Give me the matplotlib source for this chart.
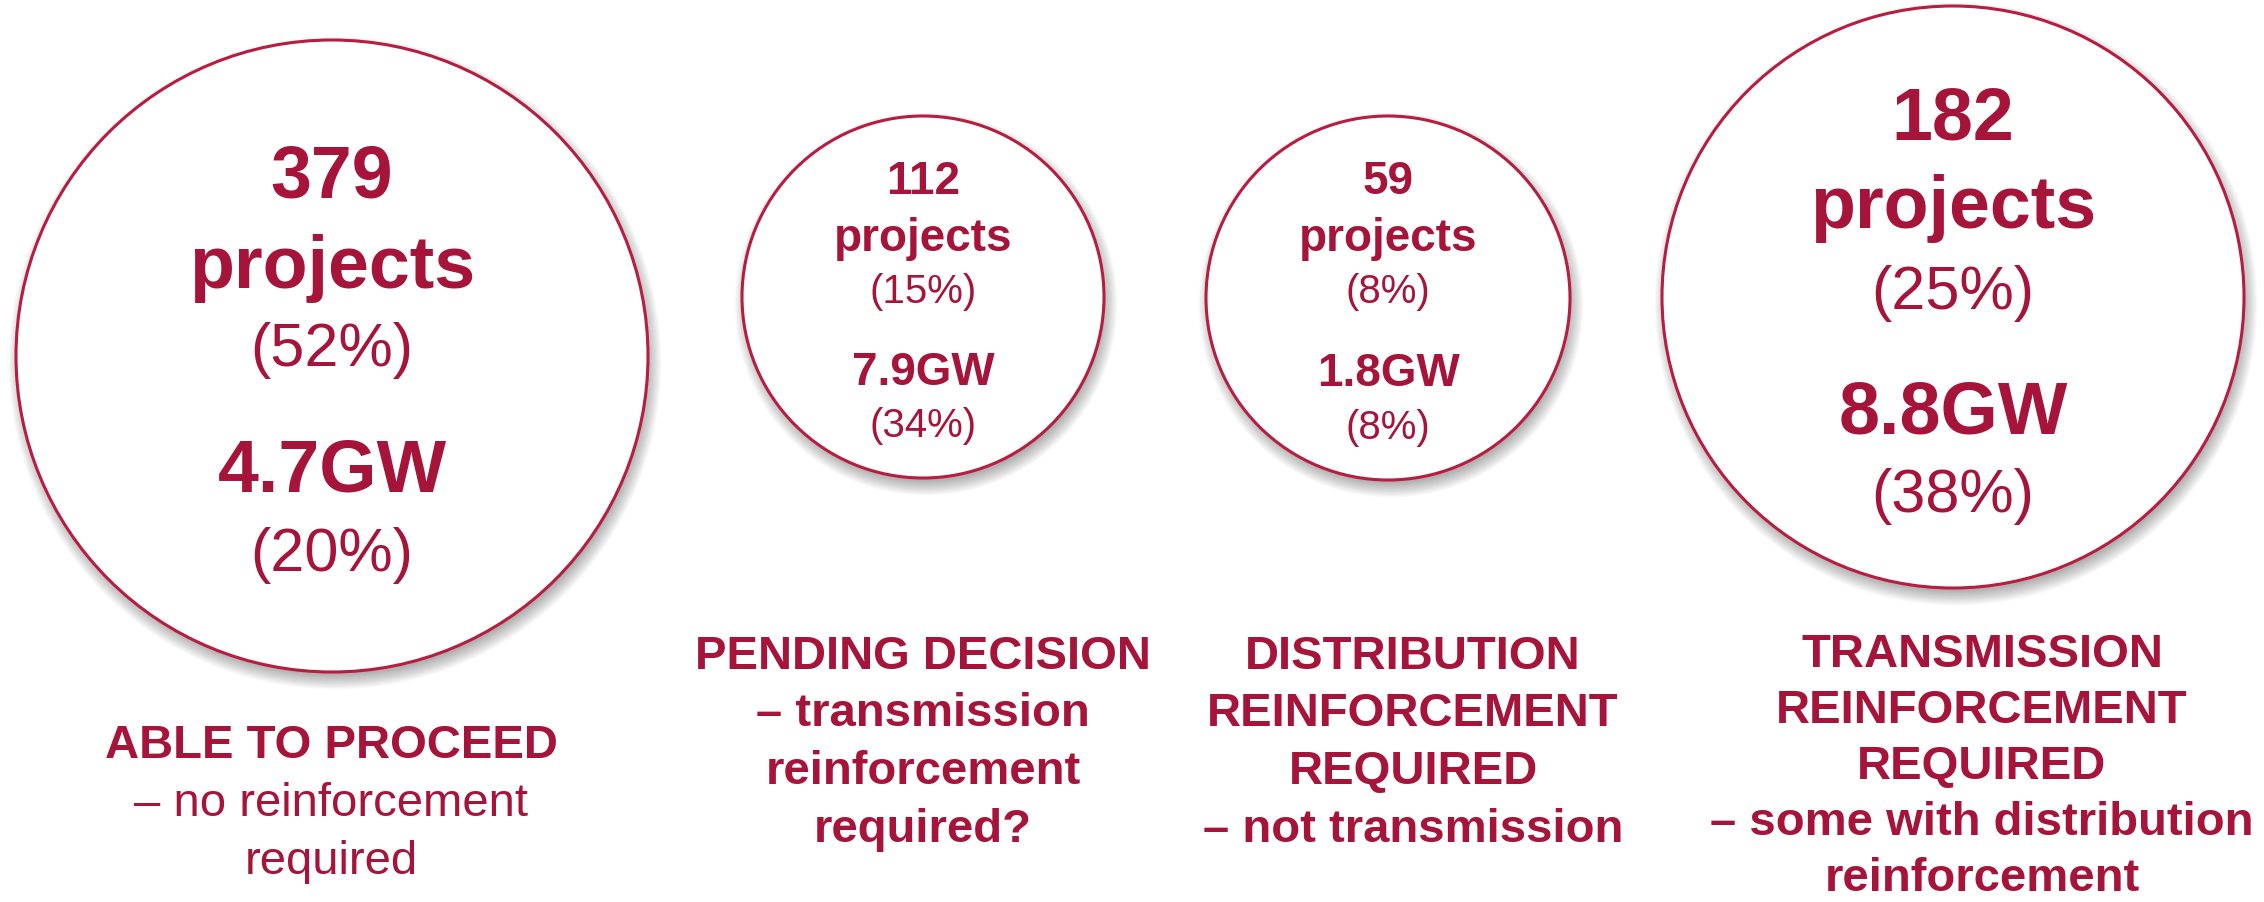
import matplotlib
matplotlib.use("Agg")
import matplotlib.pyplot as plt
from matplotlib.patches import Circle

# ---- data ----
project_counts = [379, 112, 59, 182]
project_share = [52, 15, 8, 25]
capacity_gw = [4.7, 7.9, 1.8, 8.8]
capacity_share = [20, 34, 8, 38]
label_lines = [
    [("ABLE TO PROCEED", "bold"), ("– no reinforcement", "normal"), ("required", "normal")],
    [("PENDING DECISION", "bold"), ("– transmission", "bold"), ("reinforcement", "bold"), ("required?", "bold")],
    [("DISTRIBUTION", "bold"), ("REINFORCEMENT", "bold"), ("REQUIRED", "bold"), ("– not transmission", "bold")],
    [("TRANSMISSION", "bold"), ("REINFORCEMENT", "bold"), ("REQUIRED", "bold"),
     ("– some with distribution", "bold"), ("reinforcement", "bold")],
]

# ---- layout (pixels) ----
W, H = 2264, 902
centers = [(332, 356), (923, 297), (1388, 298), (1953, 297)]
radii = [316, 181, 182, 291]
# baselines: count, "projects", share, GW, share
value_baselines = [
    [197, 288, 366, 492, 571],
    [194, 251, 303, 385, 437],
    [194, 251, 303, 386, 439],
    [139, 228, 309, 434, 512],
]
big_size = [53, 33, 33, 53]
small_size = [44, 29, 29, 44]
label_x = [331, 923, 1413, 1982]
label_first = [758, 669, 669, 667]
label_step = [58, 57.5, 57.5, 56.0]
label_size = 34

TEXT = "#A6143A"
EDGE = "#B81C3F"
FONT = "Liberation Sans"

fig = plt.figure(figsize=(W / 100, H / 100), dpi=100)
ax = fig.add_axes([0, 0, 1, 1])
ax.set_xlim(0, W)
ax.set_ylim(H, 0)
ax.axis("off")

for i in range(len(project_counts)):
    cx, cy = centers[i]
    r = radii[i]
    # soft drop shadow
    for k in range(12):
        ax.add_patch(Circle((cx + 3, cy + 7), r - 4 + k * 1.3, facecolor="black",
                            edgecolor="none", alpha=0.028, zorder=1))
    ax.add_patch(Circle((cx, cy), r, facecolor="white", edgecolor=EDGE, linewidth=2.2, zorder=2))

    b = value_baselines[i]
    ax.text(cx, b[0], f"{project_counts[i]}", ha="center", va="baseline", color=TEXT,
            fontsize=big_size[i], fontweight="bold", family=FONT, zorder=3)
    ax.text(cx, b[1], "projects", ha="center", va="baseline", color=TEXT,
            fontsize=big_size[i], fontweight="bold", family=FONT, zorder=3)
    ax.text(cx, b[2], f"({project_share[i]}%)", ha="center", va="baseline", color=TEXT,
            fontsize=small_size[i], family=FONT, zorder=3)
    ax.text(cx, b[3], f"{capacity_gw[i]:.1f}GW", ha="center", va="baseline", color=TEXT,
            fontsize=big_size[i], fontweight="bold", family=FONT, zorder=3)
    ax.text(cx, b[4], f"({capacity_share[i]}%)", ha="center", va="baseline", color=TEXT,
            fontsize=small_size[i], family=FONT, zorder=3)

    for j, (txt, wt) in enumerate(label_lines[i]):
        ax.text(label_x[i], label_first[i] + j * label_step[i], txt, ha="center", va="baseline",
                color=TEXT, fontsize=label_size, fontweight=wt, family=FONT, zorder=3)

fig.savefig("out.png", dpi=100, facecolor="white")
